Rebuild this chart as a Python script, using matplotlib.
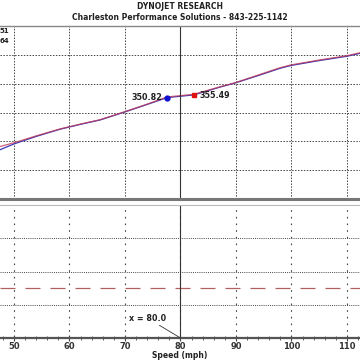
import matplotlib.pyplot as plt

# run data (speed in mph, power)
speed = [47.5, 50.0, 54.0, 58.3, 62.0, 65.5, 70.0, 74.0, 77.6, 82.4, 87.1, 89.8, 94.0, 97.9, 99.9, 105.0, 110.0, 112.3]
power_red = [266.0, 272.5, 284.5, 296.5, 305.0, 312.5, 326.5, 339.5, 352.0, 356.5, 369.5, 376.5, 390.0, 402.5, 407.5, 416.0, 423.5, 428.5]
power_blue = [260.5, 270.5, 283.5, 296.0, 304.5, 312.0, 326.0, 339.0, 350.8, 355.5, 369.0, 376.0, 389.0, 401.5, 406.5, 415.0, 422.5, 427.5]

blue_pt = (77.6, 350.82)
red_pt = (82.4, 355.49)
cursor_x = 80.0
afr_target = 13.0
xticks = [50, 60, 70, 80, 90, 100, 110]

plt.rcParams['font.family'] = ['DejaVu Sans']
fig = plt.figure(figsize=(3.6, 3.6), dpi=100)

xmin, xmax = 47.48, 112.35

# upper plot
ax1 = fig.add_axes([0, 0.4472, 1, 0.4806])
ax1.set_xlim(xmin, xmax)
ax1.set_ylim(175, 475)
ax1.plot(speed, power_blue, color='#3a3ab8', lw=0.9)
ax1.plot(speed, power_red, color='#c03a5a', lw=0.9, alpha=0.8)
ax1.axvline(cursor_x, color='#333333', lw=0.8)
ax1.plot(*blue_pt, 'o', color='#1010d0', ms=3.5)
ax1.plot(*red_pt, 's', color='#e01010', ms=3)
ax1.text(blue_pt[0] - 0.9, blue_pt[1], f'{blue_pt[1]:.2f}', ha='right', va='center',
         fontsize=5.8, fontweight='bold', color='#222222')
ax1.text(red_pt[0] + 1.0, red_pt[1] - 1, f'{red_pt[1]:.2f}', ha='left', va='center',
         fontsize=5.8, fontweight='bold', color='#222222')
ax1.set_xticks(xticks)
ax1.set_yticks([225, 275, 325, 375, 425])
ax1.grid(True, color='#444444', lw=0.7, ls=(0, (1.5, 1.5)))
ax1.tick_params(left=False, bottom=False, labelleft=False, labelbottom=False)
for s in ['left', 'right']:
    ax1.spines[s].set_visible(False)
ax1.spines['top'].set_color('#888888')
ax1.spines['top'].set_linewidth(1.0)
ax1.spines['bottom'].set_color('#777777')
ax1.spines['bottom'].set_linewidth(2.2)

# lower plot
ax2 = fig.add_axes([0, 0.0611, 1, 0.3694])
ax2.set_xlim(xmin, xmax)
ax2.set_ylim(10, 18)
ax2.axhline(afr_target, color='#b06060', lw=0.9, ls=(0, (12, 8)))
ax2.axvline(cursor_x, color='#333333', lw=0.8)
ax2.set_xticks(xticks)
ax2.set_xticks(range(48, 113, 2), minor=True)
ax2.set_yticks([12, 14, 16])
ax2.xaxis.grid(True, color='#444444', lw=0.8, ls=(0, (1.5, 4.5)))
ax2.yaxis.grid(True, color='#444444', lw=0.7, ls=(0, (1, 1.2)))
ax2.tick_params(left=False, labelleft=False)
ax2.tick_params(axis='x', which='major', direction='inout', length=5, width=0.8,
                color='#444444', labelsize=6, pad=0.5, labelcolor='#333333')
ax2.tick_params(axis='x', which='minor', direction='inout', length=3, width=0.6,
                color='#444444')
for lab in ax2.get_xticklabels():
    lab.set_fontweight('bold')
for s in ['left', 'right']:
    ax2.spines[s].set_visible(False)
ax2.spines['top'].set_color('#bbbbbb')
ax2.spines['top'].set_linewidth(0.8)
ax2.spines['bottom'].set_color('#555555')
ax2.spines['bottom'].set_linewidth(1.6)
ax2.annotate(f'x = {cursor_x:.1f}', xy=(cursor_x, 10), xytext=(70.7, 11.2),
             fontsize=5.8, fontweight='bold', color='#222222', va='center',
             arrowprops=dict(arrowstyle='-', color='#333333', lw=0.6,
                             shrinkA=0, shrinkB=0))
fig.text(0.5, 0.0, 'Speed (mph)', ha='center', va='bottom', fontsize=5.5,
         fontweight='bold', color='#222222')

# header
fig.text(0.5, 0.983, 'DYNOJET RESEARCH', ha='center', va='center', fontsize=5.5,
         fontweight='bold', color='#222222')
fig.text(0.5, 0.952, 'Charleston Performance Solutions - 843-225-1142', ha='center',
         va='center', fontsize=5.5, fontweight='bold', color='#222222')
fig.text(0.026, 0.913, '51', ha='right', va='center', fontsize=5, fontweight='bold',
         color='#222222')
fig.text(0.026, 0.887, '64', ha='right', va='center', fontsize=5, fontweight='bold',
         color='#222222')

fig.savefig('out.png', dpi=100)
